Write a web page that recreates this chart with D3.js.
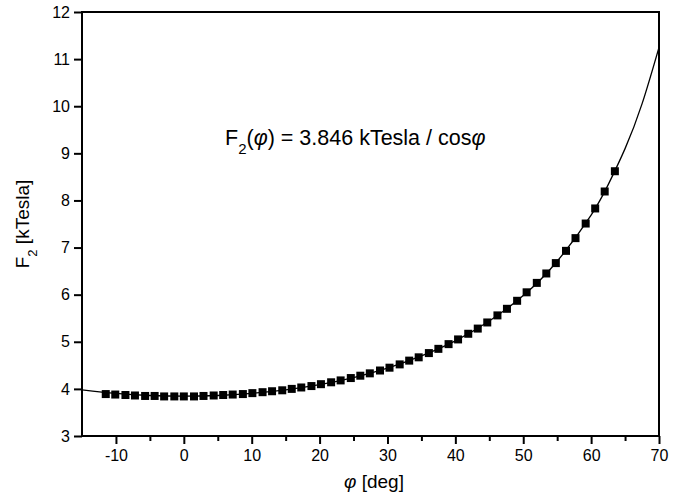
<!DOCTYPE html>
<html lang="en">
<head>
<meta charset="utf-8">
<title>F2 vs phi</title>
<style>
  body { margin: 0; background: #fff; font-family: Arial, "Liberation Sans", Helvetica, sans-serif; }
  .axis text { font-size: 16px; fill: #000; font-family: Arial, "Liberation Sans", sans-serif; }
  .axis .domain { display: none; }
  .axis .tick line { stroke: #000; stroke-width: 2; }
</style>
</head>
<body>
<div class="graph"></div>
<script src="https://cdn.jsdelivr.net/npm/d3@7"></script>
<script>
// measured points (angle in deg, field in kTesla)
var phi = [-11.5, -10.1, -8.6, -7.2, -5.7, -4.3, -2.9, -1.4, 0.0, 1.5, 2.9, 4.4, 5.8, 7.2, 8.7,
  10.1, 11.6, 13.0, 14.5, 15.9, 17.3, 18.8, 20.2, 21.7, 23.1, 24.6, 26.0, 27.4, 28.9, 30.3,
  31.8, 33.2, 34.6, 36.1, 37.5, 39.0, 40.4, 41.9, 43.3, 44.7, 46.2, 47.6, 49.1, 50.5, 52.0,
  53.4, 54.8, 56.3, 57.7, 59.2, 60.6, 62.0, 63.5];
var f2 = [3.89, 3.88, 3.87, 3.86, 3.85, 3.85, 3.84, 3.84, 3.84, 3.84, 3.85, 3.86, 3.87, 3.88, 3.89,
  3.91, 3.93, 3.95, 3.97, 4.00, 4.03, 4.06, 4.10, 4.14, 4.18, 4.23, 4.28, 4.33, 4.39, 4.45,
  4.52, 4.60, 4.67, 4.76, 4.85, 4.95, 5.05, 5.17, 5.28, 5.41, 5.56, 5.70, 5.87, 6.05, 6.25,
  6.45, 6.67, 6.93, 7.20, 7.51, 7.83, 8.19, 8.62];

// fit curve F2 = 3.846 / cos(phi)
var fitPhi = [-15, -10, -5, 0, 5, 10, 15, 20, 25, 30, 35, 40, 45, 50, 55, 60, 62.5, 65, 67.5, 70];
var fitF2 = [3.98, 3.905, 3.86, 3.846, 3.86, 3.905, 3.98, 4.09, 4.24, 4.44, 4.70, 5.02, 5.44,
  5.98, 6.71, 7.69, 8.33, 9.10, 10.05, 11.25];

var xTicks = [-10, 0, 10, 20, 30, 40, 50, 60, 70];
var xMinor = [-5, 5, 15, 25, 35, 45, 55, 65];
var yTicks = [3, 4, 5, 6, 7, 8, 9, 10, 11, 12];

var W = 686, H = 499;
var mLeft = 82, mRight = 659, mTop = 12, mBottom = 436;

var svg = d3.select('.graph').append('svg')
  .attr('width', W).attr('height', H);

var x = d3.scaleLinear().domain([-15, 70]).range([mLeft, mRight]);
var y = d3.scaleLinear().domain([3, 12]).range([mBottom, mTop]);

function plain(d) { return String(d); }

// minor x ticks
svg.append('g')
  .attr('class', 'axis')
  .attr('transform', 'translate(0,' + mBottom + ')')
  .call(d3.axisBottom(x).tickValues(xMinor).tickSize(5).tickFormat(''));

// x axis
svg.append('g')
  .attr('class', 'axis')
  .attr('transform', 'translate(0,' + mBottom + ')')
  .call(d3.axisBottom(x).tickValues(xTicks).tickSize(8).tickPadding(6).tickFormat(plain));

// y axis
svg.append('g')
  .attr('class', 'axis')
  .attr('transform', 'translate(' + mLeft + ',0)')
  .call(d3.axisLeft(y).tickValues(yTicks).tickSize(8).tickPadding(4).tickFormat(plain));

// frame
svg.append('rect')
  .attr('x', mLeft).attr('y', mTop)
  .attr('width', mRight - mLeft).attr('height', mBottom - mTop)
  .attr('fill', 'none').attr('stroke', '#000').attr('stroke-width', 2);

// clip
svg.append('clipPath').attr('id', 'plot')
  .append('rect').attr('x', mLeft).attr('y', mTop)
  .attr('width', mRight - mLeft).attr('height', mBottom - mTop);

// fitted curve
var line = d3.line()
  .curve(d3.curveNatural)
  .x(function(d, i) { return x(fitPhi[i]); })
  .y(function(d) { return y(d); });

svg.append('path')
  .datum(fitF2)
  .attr('clip-path', 'url(#plot)')
  .attr('d', line)
  .attr('fill', 'none')
  .attr('stroke', '#000')
  .attr('stroke-width', 1.3);

// data squares
var s = 8;
svg.append('g').selectAll('rect')
  .data(f2)
  .join('rect')
  .attr('x', function(d, i) { return x(phi[i]) - s / 2; })
  .attr('y', function(d) { return y(d) - s / 2; })
  .attr('width', s).attr('height', s)
  .attr('fill', '#000');

// axis titles
svg.append('text')
  .attr('x', 374).attr('y', 488)
  .attr('text-anchor', 'middle')
  .style('font-size', '19px')
  .html('<tspan font-style="italic">&#966;</tspan> [deg]');

svg.append('text')
  .attr('transform', 'translate(29,' + ((mTop + mBottom) / 2) + ') rotate(-90)')
  .attr('text-anchor', 'middle')
  .style('font-size', '19px')
  .html('F<tspan baseline-shift="sub" font-size="13px">2</tspan> [kTesla]');

// formula annotation
svg.append('text')
  .attr('x', 225).attr('y', 145)
  .style('font-size', '21.5px')
  .html('F<tspan baseline-shift="sub" font-size="15px">2</tspan>(<tspan font-style="italic">&#966;</tspan>) = 3.846 kTesla / cos<tspan font-style="italic">&#966;</tspan>');
</script>
</body>
</html>
